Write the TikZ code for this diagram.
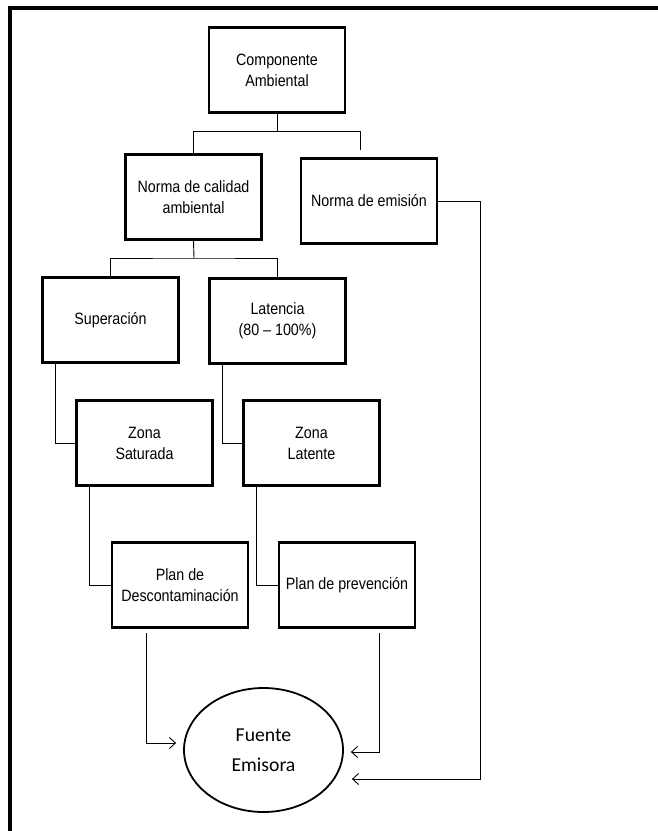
\documentclass[tikz,border=0pt]{standalone}
\usepackage{fontspec}
\setmainfont{Liberation Sans}[FakeStretch=0.87]
\newfontfamily\ellfont{Carlito}
\usetikzlibrary{arrows.meta,positioning,shapes.geometric}

\begin{document}
\begin{tikzpicture}[x=1pt, y=-1pt,
  box/.style={draw, line width=2.6pt, minimum width=136pt, minimum height=85pt,
    align=center, inner sep=2pt, font=\fontsize{16.4}{21}\selectfont},
  link/.style={line width=0.9pt},
  arr/.style={line width=0.9pt, -{Straight Barb[length=6pt, width=11pt]}}]
  \useasboundingbox (0,0) rectangle (658,831);
  \draw[line width=3.5pt] (10,831) -- (10,8) -- (658,8);

  \node[box] (comp) at (277,70) {Componente\\Ambiental};
  \node[box] (calidad) at (193.5,197) {Norma de calidad\\ambiental};
  \node[box] (emision) at (369,201) {Norma de emisión};
  \node[box] (super) at (110.5,320) {Superación};
  \node[box] (laten) at (277.5,321) {Latencia\\(80 -- 100\%)};
  \node[box] (zsat) at (144.5,443) {Zona\\Saturada};
  \node[box] (zlat) at (311.5,443) {Zona\\Latente};
  \node[box] (pdesc) at (180,585) {Plan de\\Descontaminación};
  \node[box] (pprev) at (347,585) {Plan de prevención};
  \node[draw, ellipse, line width=1.8pt, minimum width=159pt, minimum height=124pt,
        align=center, font=\ellfont\fontsize{19.7}{30}\selectfont] (fuente) at (263.5,750)
    {Fuente\\Emisora};

  \coordinate (fork1) at (277,131);
  \coordinate (fork2) at (194,258);
  \coordinate (e1) at (360,150);

  \draw[link] (comp.south) -- (fork1);
  \draw[link] (calidad.north) -- (calidad.north |- fork1) -| (e1);
  \draw[link] (calidad.south) -- (fork2);
  \draw[link] (super.north) |- (fork2) -| (laten.north);

  \draw[link] ([xshift=14pt]super.south west) |- (zsat.west);
  \draw[link] ([xshift=14pt]laten.south west) |- (zlat.west);
  \draw[link] ([xshift=14pt]zsat.south west) |- (pdesc.west);
  \draw[link] ([xshift=14pt]zlat.south west) |- (pprev.west);

  \draw[arr] ([xshift=36pt, yshift=-4pt]pdesc.south west) |- ([xshift=-7pt, yshift=7pt]fuente.west);
  \draw[arr] ([xshift=-37pt, yshift=-4pt]pprev.south east) |- ([xshift=7pt, yshift=-2pt]fuente.east);
  \draw[arr] (emision.east) -- ++(42,0) |- ([xshift=8pt, yshift=-29pt]fuente.east);
\end{tikzpicture}
\end{document}
